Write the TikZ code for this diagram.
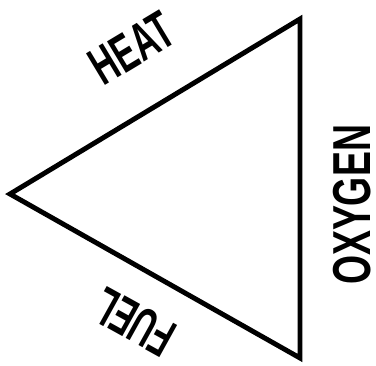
\documentclass[tikz,border=0pt]{standalone}
\usepackage{fontspec}
\setsansfont{Liberation Sans}
\usepackage{tikz}
\usetikzlibrary{positioning}
\tikzset{
    side/.style={draw=black, line width=7pt, line join=miter},
    sidelbl/.style={
        font=\fontsize{76}{76}\selectfont\bfseries\sffamily,
        inner sep=0pt, text=black
    },
}

\begin{document}
\begin{tikzpicture}[x=0.5mm, y=0.5mm]
    \useasboundingbox (0,0) rectangle (376,366);

    % ── 三角形顶点 ────────────────────────────────────────
    \coordinate (left)   at (10,172);
    \coordinate (top)    at (300,347);
    \coordinate (bottom) at (300,8);

    \draw [side] (left) -- (top) -- (bottom) -- cycle;

    % ── 三条边的标注 ──────────────────────────────────────
    \node [sidelbl, rotate=31]  (heat)   at (132,318) {\scalebox{0.62}[1]{HEAT}};
    \node [sidelbl, rotate=90]  (oxygen) at (352,161) {\scalebox{0.7}[1]{OXYGEN}};
    \node [sidelbl, rotate=151] (fuel)   at (134,44)  {\scalebox{0.6}[1]{FUEL}};

\end{tikzpicture}
\end{document}
